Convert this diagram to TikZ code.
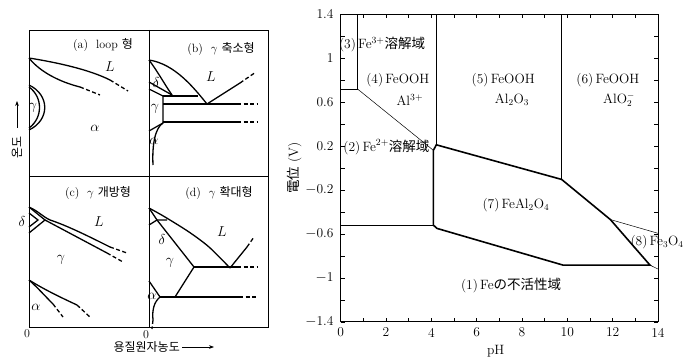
\documentclass[tikz,border=0pt]{standalone}
\usepackage{fontspec}
\newfontfamily\kr{Noto Sans CJK KR}
\newfontfamily\jp{Noto Sans CJK JP}
\usetikzlibrary{arrows.meta}
\begin{document}
\begin{tikzpicture}[x=1pt,y=1pt,
  frame/.style={line width=0.9pt},
  pl/.style={line width=1.3pt},
  dl/.style={line width=1.3pt,dash pattern=on 4pt off 2.5pt},
  thinl/.style={line width=0.5pt},
  thickl/.style={line width=1.6pt},
  axisl/.style={line width=0.9pt},
  ttl/.style={font=\fontsize{12}{13}\selectfont,inner sep=0pt},
  ph/.style={font=\fontsize{13.5}{14}\selectfont,inner sep=0pt},
  rg/.style={font=\fontsize{13.5}{15}\selectfont,inner sep=0pt},
  tk/.style={font=\fontsize{13.5}{14}\selectfont,inner sep=0pt}]
\useasboundingbox (0,0) rectangle (684,-358);
\fill[white] (0,0) rectangle (684,-358);

% ===== left: four phase diagrams =====
\draw[frame] (29,-30) rectangle (268,-327);
\draw[frame] (149,-30) -- (149,-327);
\draw[frame] (29,-176) -- (268,-176);

% (a)
\node[ttl] (ta) at (103,-45) {(a)\ \ loop {\kr 형}};
\draw[pl] (29,-58) .. controls (60,-63) and (90,-70) .. (110,-80);
\draw[dl] (110,-80) -- (128,-91);
\draw[pl] (29,-58) .. controls (40,-72) and (60,-82) .. (80,-87);
\draw[dl] (80,-87) -- (100,-95);
\draw[pl] (29,-85) .. controls (50,-95) and (50,-120) .. (29,-130);
\draw[pl] (29,-87) .. controls (43,-97) and (43,-118) .. (29,-128);
\node[ph] (ga) at (33,-108) {$\gamma$};
\node[ph] (La) at (110,-67) {$L$};
\node[ph] (aa) at (95,-128) {$\alpha$};

% (b)
\node[ttl] (tb) at (221,-49) {(b)\ \ $\gamma$ {\kr 축소형}};
\draw[pl] (149,-60) .. controls (175,-64) and (194,-88) .. (207,-104);
\draw[pl] (149,-60) .. controls (158,-72) and (165,-85) .. (172,-95);
\draw[pl] (149,-82) -- (172,-95);
\draw[pl] (149,-89) -- (163,-96) -- (163,-123) -- (149,-131);
\draw[pl] (163,-96) -- (198,-96);
\draw[pl] (163,-104) -- (237,-104);
\draw[dl] (237,-104) -- (258,-104);
\draw[pl] (163,-122) -- (237,-122);
\draw[dl] (237,-122) -- (258,-122);
\draw[pl] (207,-104) -- (240,-83);
\draw[dl] (240,-83) -- (256,-72);
\draw[pl] (163,-123) .. controls (155,-128) and (152,-145) .. (153,-165);
\node[ph] (db) at (156,-83) {$\delta$};
\node[ph] (gb) at (155,-109) {$\gamma$};
\node[ph] (ab) at (154,-141) {$\alpha$};
\node[ph] (Lb) at (211,-77) {$L$};

% (c)
\node[ttl] (tc) at (98,-193) {(c)\ \ $\gamma$ {\kr 개방형}};
\draw[pl] (29,-207) .. controls (40,-212) and (45,-219) .. (53,-221) .. controls (70,-227) and (90,-237) .. (110,-247);
\draw[dl] (110,-247) -- (127,-253);
\draw[pl] (45,-220) -- (107,-253);
\draw[dl] (107,-253) -- (123,-262);
\draw[pl] (29,-207) -- (45,-220) -- (29,-233);
\draw[pl] (29,-213) -- (38,-220) -- (29,-227);
\node[ph] (dc) at (22,-221) {$\delta$};
\node[ph] (Lc) at (99,-222) {$L$};
\node[ph] (gc) at (61,-260) {$\gamma$};
\draw[pl] (29,-280) .. controls (38,-288) and (45,-296) .. (53,-304);
\draw[dl] (53,-304) -- (63,-317);
\draw[pl] (29,-280) .. controls (45,-290) and (62,-298) .. (77,-305);
\draw[dl] (77,-305) -- (91,-318);
\node[ph] (ac) at (36,-307) {$\alpha$};

% (d)
\node[ttl] (td) at (219,-193) {(d)\ \ $\gamma$ {\kr 확대형}};
\draw[pl] plot[smooth] coordinates {(149,-208) (165,-217) (189,-232) (209,-247) (230,-268)};
\draw[pl] (149,-208) -- (157,-220);
\draw[pl] (149,-225) -- (157,-220) -- (167,-220);
\draw[pl] (157,-220) -- (194,-267);
\draw[pl] (194,-267) -- (237,-267);
\draw[dl] (237,-267) -- (258,-267);
\draw[pl] (230,-268) -- (247,-247);
\draw[dl] (247,-247) -- (254,-237);
\draw[pl] (194,-267) -- (175,-297);
\draw[pl] (160,-297) -- (239,-297);
\draw[dl] (239,-297) -- (258,-297);
\draw[pl] (149,-281) -- (160,-297);
\draw[pl] (160,-297) .. controls (154,-302) and (152,-310) .. (153,-320);
\draw[dl] (153,-320) -- (152,-329);
\node[ph] (dd) at (162,-239) {$\delta$};
\node[ph] (gd) at (170,-263) {$\gamma$};
\node[ph] (ad) at (152,-296) {$\alpha$};
\node[ph] (Ld) at (222,-232) {$L$};

% axes captions
\node[ttl] (z1) at (27,-334) {0};
\node[ttl] (z2) at (146,-335) {0};
\node[ttl,anchor=east] (conc) at (180,-347) {\kr 용질원자농도};
\coordinate (ca) at (182,-347);
\coordinate (cb) at (214,-347);
\draw[line width=0.8pt,-{Stealth[length=5pt]}] (ca) -- (cb);
\node[ttl,rotate=90] (temp) at (17,-147) {\kr 온도};
\coordinate (ta1) at (17,-128);
\coordinate (ta2) at (17,-101);
\draw[line width=0.8pt,-{Stealth[length=5pt]}] (ta1) -- (ta2);

% ===== right: potential-pH diagram =====
\begin{scope}[shift={(340.7,-167.9)},x=22.66pt,y=109.9pt]
  \draw[axisl] (0,-1.4) rectangle (14,1.4);
  \foreach \i in {0,...,14} {
    \draw[thinl] (0,{-1.4+0.2*\i}) -- ++(4pt,0);
    \draw[thinl] (14,{-1.4+0.2*\i}) -- ++(-4pt,0);
    \draw[thinl] (\i,-1.4) -- ++(0,4pt);
    \draw[thinl] (\i,1.4) -- ++(0,-4pt);
  }
  \foreach \v/\t [count=\n] in {1.4/1.4,1/1,0.6/0.6,0.2/0.2,-0.2/$-$0.2,-0.6/$-$0.6,-1/$-$1,-1.4/$-$1.4}
    \node[tk,anchor=east] (yl\n) at ([xshift=-7pt]0,\v) {\t};
  \foreach \x [count=\n] in {0,2,...,14}
    \node[tk,anchor=north] (xl\n) at ([yshift=-6pt]\x,-1.4) {\x};
  \node[tk] (phl) at (6.84,-1.665) {pH};
  \node[tk,rotate=90] (el) at (-2.05,0) {{\jp 電位} (V)};

  % thin boundaries
  \draw[thinl] (0.73,1.4) -- (0.73,0.72) -- (0,0.72);
  \draw[thinl] (0.73,0.72) -- (4.09,0.16);
  \draw[thinl] (4.22,1.4) -- (4.22,0.21);
  \draw[thinl] (9.75,1.4) -- (9.75,-0.105);
  \draw[thinl] (0,-0.52) -- (4.09,-0.52);
  \draw[thinl] (11.9,-0.47) -- (14,-0.595);
  \draw[thinl] (13.65,-0.885) -- (14,-0.92);
  % thick boundaries
  \draw[thickl] (4.09,0.16) -- (4.22,0.21) -- (9.75,-0.105) -- (11.9,-0.47) -- (13.65,-0.885) -- (9.82,-0.885) -- (4.24,-0.55) -- (4.09,-0.52) -- cycle;

  % region labels
  \node[rg,anchor=west] (r3) at (-0.08,1.12) {(3)\,Fe\textsuperscript{3+}{\jp 溶解域}};
  \node[rg] (r4a) at (2.52,0.80) {(4)\,FeOOH};
  \node[rg] (r4b) at (3.05,0.62) {Al\textsuperscript{3+}};
  \node[rg] (r5a) at (7.17,0.80) {(5)\,FeOOH};
  \node[rg] (r5b) at (7.56,0.62) {Al$_2$O$_3$};
  \node[rg] (r6a) at (11.79,0.80) {(6)\,FeOOH};
  \node[rg] (r6b) at (12.28,0.62) {AlO$_2^-$};
  \node[rg,anchor=east] (r2) at (3.92,0.19) {(2)\,Fe\textsuperscript{2+}{\jp 溶解域}};
  \node[rg] (r7) at (7.73,-0.338) {(7)\,FeAl$_2$O$_4$};
  \node[rg] (r8) at (13.96,-0.675) {(8)\,Fe$_3$O$_4$};
  \node[rg] (r1) at (7.52,-1.066) {(1)\,Fe{\jp の不活性域}};
\end{scope}
\end{tikzpicture}
\end{document}
